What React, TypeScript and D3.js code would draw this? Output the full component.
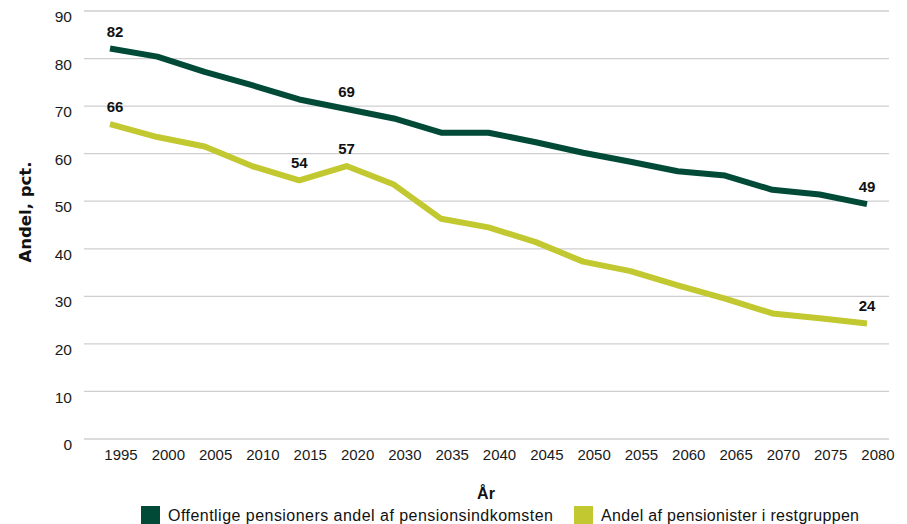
import React from "react";
import * as d3 from "d3";

const years = ["1995", "2000", "2005", "2010", "2015", "2020", "2030", "2035", "2040", "2045", "2050", "2055", "2060", "2065", "2070", "2075", "2080"];
const offentlige = [82.1, 80.4, 77.2, 74.4, 71.4, 69.4, 67.4, 64.4, 64.4, 62.4, 60.2, 58.3, 56.3, 55.4, 52.4, 51.4, 49.4];
const restgruppen = [66.2, 63.5, 61.5, 57.4, 54.4, 57.4, 53.5, 46.3, 44.5, 41.4, 37.3, 35.3, 32.3, 29.5, 26.4, 25.4, 24.3];
const yTicks = [0, 10, 20, 30, 40, 50, 60, 70, 80, 90];

// which points get a value label
const labelsOffentlige = ["1995", "2020", "2080"];
const labelsRest = ["1995", "2015", "2020", "2080"];

const seriesNames = ["Offentlige pensioners andel af pensionsindkomsten", "Andel af pensionister i restgruppen"];
const colors = ["#004a37", "#c2c82f"];

const W = 907;
const H = 524;
const font = "'Liberation Sans', Arial, sans-serif";

export default function App() {
  const x = d3.scalePoint<string>().domain(years).range([110, 867]);
  const y = d3.scaleLinear().domain([0, 90]).range([439, 11]);
  const gridX0 = 84;
  const gridX1 = 889;

  const line = d3
    .line<number>()
    .x((_, i) => x(years[i])!)
    .y((d) => y(d));

  const series = [offentlige, restgruppen];
  const labelSets = [labelsOffentlige, labelsRest];
  const legendX = [141, 574];
  const legendLen = [385, 258];

  return (
    <svg width={W} height={H} style={{ position: "absolute", left: 0, top: 0, display: "block" }} fontFamily={font}>
      <rect width={W} height={H} fill="#fff" />
      {yTicks.map((t) => (
        <g key={t}>
          <line x1={gridX0} x2={gridX1} y1={y(t)} y2={y(t)} stroke="#cfcfcf" strokeWidth={1.3} />
          <text x={72} y={y(t) + 7} textAnchor="end" dominantBaseline="middle" fontSize={15.5} fill="#1a1a1a">
            {t}
          </text>
        </g>
      ))}
      {years.map((yr) => (
        <text key={yr} x={x(yr)! + 11} y={456} textAnchor="middle" dominantBaseline="middle" fontSize={15} fill="#1a1a1a">
          {yr}
        </text>
      ))}
      {series.map((s, si) => (
        <path key={si} d={line(s)!} fill="none" stroke={colors[si]} strokeWidth={6} strokeLinejoin="round" />
      ))}
      {series.map((s, si) =>
        labelSets[si].map((yr) => {
          const i = years.indexOf(yr);
          return (
            <text key={si + yr} x={x(yr)! + (i === 0 ? 5 : 0)} y={y(s[i]) - 12} textAnchor="middle" fontSize={15} fontWeight="bold" fill="#111">
              {Math.round(s[i])}
            </text>
          );
        })
      )}
      <text transform={`translate(31,212) rotate(-90)`} textAnchor="middle" fontSize={16.5} fontWeight="bold" fill="#111" fontFamily="'DejaVu Sans', sans-serif">
        Andel, pct.
      </text>
      <text x={486} y={499} textAnchor="middle" fontSize={16} fontWeight="bold" fill="#111">
        År
      </text>
      {seriesNames.map((n, i) => (
        <g key={n}>
          <rect x={legendX[i]} y={506} width={19} height={19} fill={colors[i]} />
          <text x={legendX[i] + 27} y={521} fontSize={16} fill="#111" textLength={legendLen[i]} lengthAdjust="spacing">
            {n}
          </text>
        </g>
      ))}
    </svg>
  );
}
